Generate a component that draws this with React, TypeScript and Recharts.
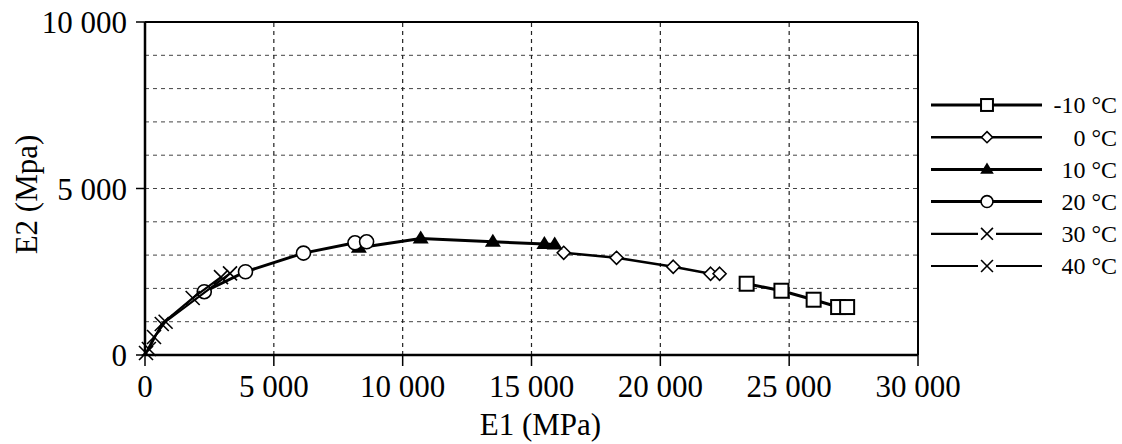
import React from 'react';
import { Legend, ReferenceLine, Scatter, ScatterChart, XAxis, YAxis, Label } from 'recharts';

// E1 / E2 pairs (MPa), one set per temperature
const e1Minus10 = [23350, 24700, 25950, 26900, 27250];
const e2Minus10 = [2140, 1930, 1660, 1440, 1440];
const e1Zero = [16250, 18300, 20500, 21950, 22300];
const e2Zero = [3070, 2920, 2650, 2440, 2440];
const e1Ten = [8300, 10700, 13500, 15500, 15900];
const e2Ten = [3220, 3500, 3400, 3330, 3320];
const e1Twenty = [2300, 3900, 6150, 8150, 8600];
const e2Twenty = [1900, 2500, 3060, 3370, 3400];
const e1Thirty = [150, 650, 1850, 2950];
const e2Thirty = [180, 930, 1710, 2340];
const e1Forty = [40, 350, 800, 3300];
const e2Forty = [60, 540, 1000, 2450];

const xTicks = [0, 5000, 10000, 15000, 20000, 25000, 30000];
const yTicks = [0, 5000, 10000];
const gridX = [5000, 10000, 15000, 20000, 25000];
const gridY = [1000, 2000, 3000, 4000, 5000, 6000, 7000, 8000, 9000];

type MarkerKind = 'square' | 'diamond' | 'triangle' | 'circle' | 'cross';

const zip = (xs: number[], ys: number[]) => xs.map((x, i) => ({ x, y: ys[i] }));

const series = [
  { name: '-10 °C', data: zip(e1Minus10, e2Minus10), marker: 'square' as MarkerKind, width: 3 },
  { name: '0 °C', data: zip(e1Zero, e2Zero), marker: 'diamond' as MarkerKind, width: 2.5 },
  { name: '10 °C', data: zip(e1Ten, e2Ten), marker: 'triangle' as MarkerKind, width: 3 },
  { name: '20 °C', data: zip(e1Twenty, e2Twenty), marker: 'circle' as MarkerKind, width: 3 },
  { name: '30 °C', data: zip(e1Thirty, e2Thirty), marker: 'cross' as MarkerKind, width: 2.2 },
  { name: '40 °C', data: zip(e1Forty, e2Forty), marker: 'cross' as MarkerKind, width: 2.2 },
];

const FONT = 'Liberation Serif, Tinos, Noto Serif, DejaVu Serif, FreeSerif, Times, serif';

const fmt = (v: number) => String(v).replace(/\B(?=(\d{3})+(?!\d))/g, ' ');

const Marker = ({ kind, cx, cy, s = 1 }: { kind: MarkerKind; cx: number; cy: number; s?: number }) => {
  switch (kind) {
    case 'square':
      return <rect x={cx - 7 * s} y={cy - 7 * s} width={14 * s} height={14 * s} fill="#fff" stroke="#000" strokeWidth={2} />;
    case 'diamond':
      return (
        <polygon
          points={`${cx},${cy - 6.5 * s} ${cx + 6.5 * s},${cy} ${cx},${cy + 6.5 * s} ${cx - 6.5 * s},${cy}`}
          fill="#fff"
          stroke="#000"
          strokeWidth={1.6}
        />
      );
    case 'triangle':
      return <polygon points={`${cx},${cy - 8 * s} ${cx + 8 * s},${cy + 5 * s} ${cx - 8 * s},${cy + 5 * s}`} fill="#000" />;
    case 'circle':
      return <circle cx={cx} cy={cy} r={7 * s} fill="#fff" stroke="#000" strokeWidth={1.6} />;
    default:
      return (
        <g stroke="#000" strokeWidth={1.6}>
          <line x1={cx - 7 * s} y1={cy - 7 * s} x2={cx + 7 * s} y2={cy + 7 * s} />
          <line x1={cx - 7 * s} y1={cy + 7 * s} x2={cx + 7 * s} y2={cy - 7 * s} />
        </g>
      );
  }
};

const renderLegend = () => (
  <svg width={202} height={200} style={{ display: 'block' }}>
    {series.map((s, i) => {
      const y = 17 + i * 32.2;
      const gap = s.marker === 'cross' ? 9 : 0;
      return (
        <g key={s.name}>
          <line x1={11} x2={67 - gap} y1={y} y2={y} stroke="#000" strokeWidth={s.width} />
          <line x1={67 + gap} x2={122} y1={y} y2={y} stroke="#000" strokeWidth={s.width} />
          <Marker kind={s.marker} cx={67} cy={y} s={0.85} />
          <text x={197} y={y} dy="0.35em" textAnchor="end" fontFamily={FONT} fontSize={24} fill="#000">
            {s.name}
          </text>
        </g>
      );
    })}
  </svg>
);

const tickStyle = { fill: '#000', fontSize: 31, fontFamily: FONT };

export default function App() {
  return (
    <div style={{ position: 'absolute', left: 0, top: 0, background: '#fff', fontFamily: FONT }}>
      <ScatterChart width={1122} height={444} margin={{ top: 22, right: 204, left: 0, bottom: 0 }}>
        {gridY.map((v) => (
          <ReferenceLine key={`gy${v}`} y={v} stroke="#444" strokeWidth={1} strokeDasharray="4 4" />
        ))}
        {gridX.map((v) => (
          <ReferenceLine key={`gx${v}`} x={v} stroke="#222" strokeWidth={1.2} strokeDasharray="4 4" />
        ))}
        <ReferenceLine y={10000} stroke="#000" strokeWidth={2} />
        <ReferenceLine x={30000} stroke="#000" strokeWidth={2} />
        <XAxis
          type="number"
          dataKey="x"
          domain={[0, 30000]}
          ticks={xTicks}
          tickFormatter={fmt}
          height={89}
          tickSize={11}
          tickMargin={9}
          axisLine={{ stroke: '#000', strokeWidth: 2.5 }}
          tickLine={{ stroke: '#000', strokeWidth: 1.5 }}
          tick={tickStyle}
          interval={0}
        >
          <Label
            content={({ viewBox }: any) => (
              <text
                x={viewBox.x + viewBox.width / 2 + 9}
                y={viewBox.y + 80}
                textAnchor="middle"
                fontFamily={FONT}
                fontSize={31}
                fill="#000"
              >
                E1 (MPa)
              </text>
            )}
          />
        </XAxis>
        <YAxis
          type="number"
          dataKey="y"
          domain={[0, 10000]}
          ticks={yTicks}
          tickFormatter={fmt}
          width={145}
          tickSize={9}
          tickMargin={9}
          axisLine={{ stroke: '#000', strokeWidth: 2.5 }}
          tickLine={{ stroke: '#000', strokeWidth: 1.5 }}
          tick={tickStyle}
          interval={0}
        >
          <Label
            content={({ viewBox }: any) => {
              const cx = 37;
              const cy = viewBox.y + viewBox.height / 2 + 6;
              return (
                <text
                  x={cx}
                  y={cy}
                  transform={`rotate(-90, ${cx}, ${cy})`}
                  textAnchor="middle"
                  fontFamily={FONT}
                  fontSize={31}
                  fill="#000"
                >
                  E2 (Mpa)
                </text>
              );
            }}
          />
        </YAxis>
        {series.map((s) => (
          <Scatter
            key={s.name}
            name={s.name}
            data={s.data}
            line={{ stroke: '#000', strokeWidth: s.width }}
            lineType="joint"
            isAnimationActive={false}
            shape={(p: any) => <Marker kind={s.marker} cx={p.cx} cy={p.cy} />}
          />
        ))}
        <Legend
          layout="horizontal"
          align="center"
          verticalAlign="middle"
          content={renderLegend}
          wrapperStyle={{ left: 920, top: 88, width: 202, height: 200 }}
        />
      </ScatterChart>
    </div>
  );
}
